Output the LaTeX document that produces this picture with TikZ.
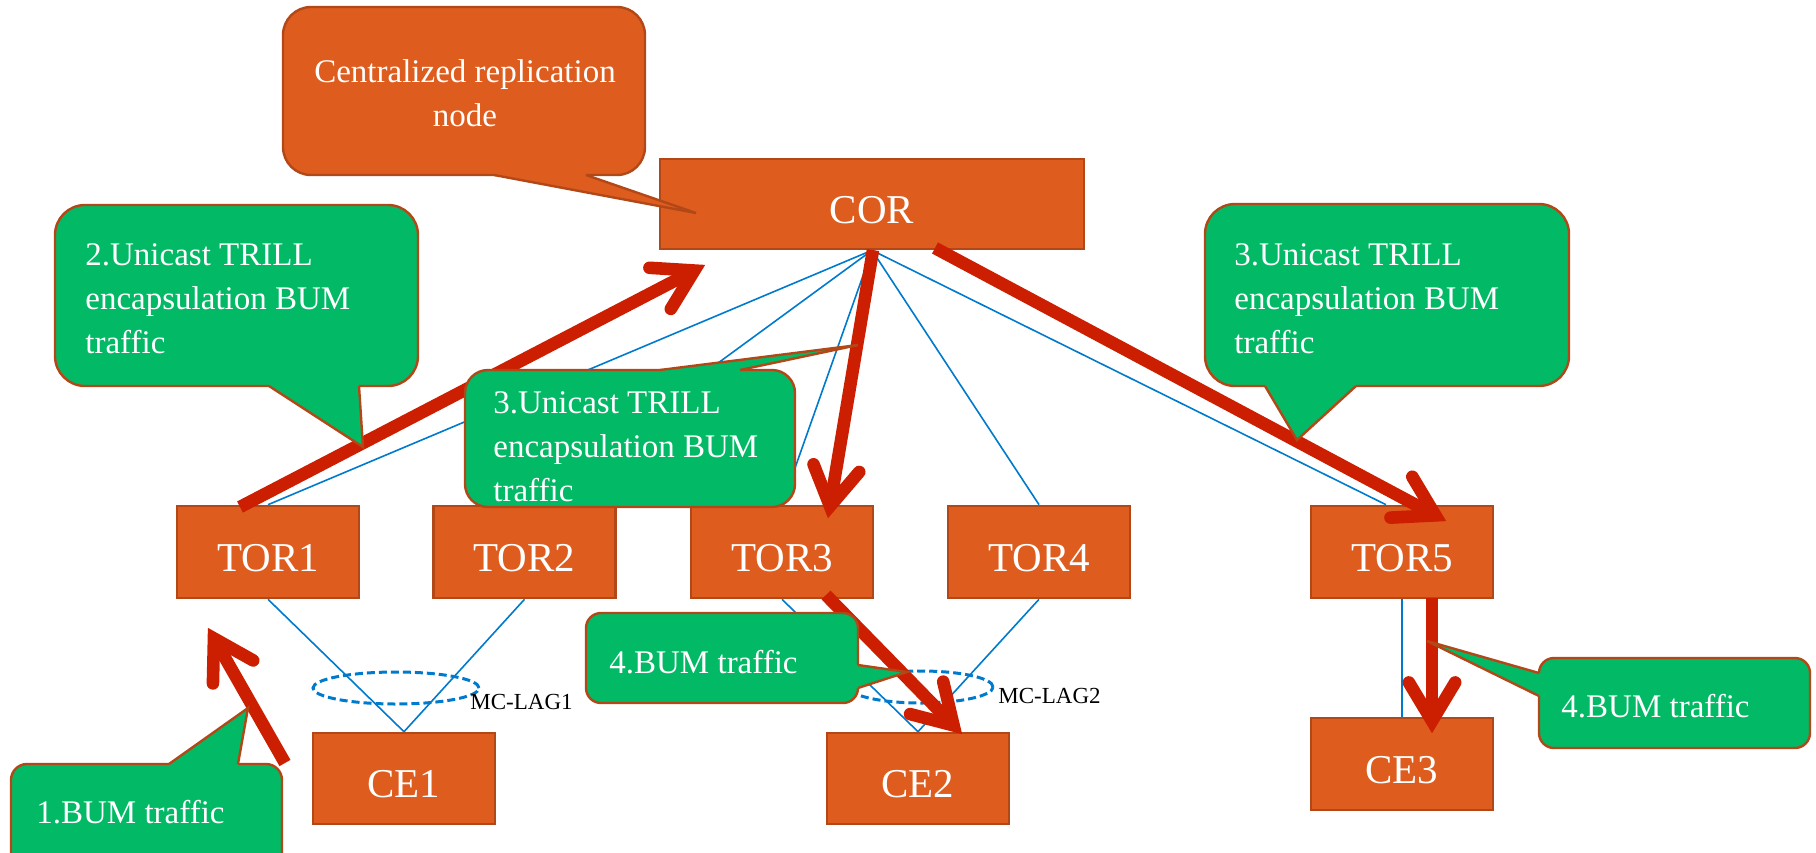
\documentclass[tikz,border=0pt]{standalone}
\usepackage{fontspec}
\setmainfont{Liberation Serif}
\usetikzlibrary{calc,backgrounds}
\definecolor{boxorange}{RGB}{221,92,30}
\definecolor{boxedge}{RGB}{178,72,24}
\definecolor{bubgreen}{RGB}{2,185,101}
\definecolor{flowred}{RGB}{204,30,0}
\definecolor{linkblue}{RGB}{0,122,204}

% thick traffic arrow: shaft plus an open V head with round ends
\newcommand\flowarrow[2]{%
  \coordinate (fv) at ($(#2)!6pt!(#1)$);
  \draw[flowline] (#1) -- (fv);
  \draw[flowhead] ($(fv)!22.5pt!31:(#1)$) -- (fv) -- ($(fv)!22.5pt!-31:(#1)$);
}

\begin{document}
\begin{tikzpicture}[x=0.5pt,y=-0.5pt,
  dev/.style={draw=boxedge,fill=boxorange,line width=1.3pt,text=white,
    font=\fontsize{20.5}{24}\selectfont,minimum width=91pt,minimum height=46pt,
    inner sep=0pt,text height=19pt,text depth=0pt},
  link/.style={draw=linkblue,line width=0.8pt},
  lag/.style={draw=linkblue,line width=1.5pt,dash pattern=on 4pt off 2pt},
  laglabel/.style={font=\fontsize{11.5}{13}\selectfont,anchor=base west,inner sep=0pt},
  flowline/.style={draw=flowred,line width=6.3pt,line cap=butt},
  flowhead/.style={draw=flowred,line width=6.3pt,line cap=round,line join=miter},
  greenbub/.style={fill=bubgreen,draw=boxedge,line width=1.2pt},
  orangebub/.style={fill=boxorange,draw=boxedge,line width=1.2pt},
  tailedge/.style={draw=boxedge,line width=1.2pt,line join=miter},
  bubtext/.style={text=white,font=\fontsize{16.5}{22}\selectfont,inner sep=0pt,align=left},
]
\useasboundingbox (0,0) rectangle (1816,852);

% devices
\node[dev,minimum width=212pt,minimum height=45pt] (COR) at (872,204) {COR};
\node[dev] (TOR1) at (268,552) {TOR1};
\node[dev] (TOR2) at (524.5,552) {TOR2};
\node[dev] (TOR3) at (782,552) {TOR3};
\node[dev] (TOR4) at (1039,552) {TOR4};
\node[dev] (TOR5) at (1402,552) {TOR5};
\node[dev,minimum height=45.5pt] (CE1) at (404,778.5) {CE1};
\node[dev,minimum height=45.5pt] (CE2) at (918,778.5) {CE2};
\node[dev] (CE3) at (1402,764) {CE3};

% physical links
\begin{scope}[on background layer]
  \draw[link] (COR.south) -- (TOR1.north);
  \draw[link] (COR.south) -- (TOR2.north);
  \draw[link] (COR.south) -- (TOR3.north);
  \draw[link] (COR.south) -- (TOR4.north);
  \draw[link] (COR.south) -- ([xshift=-8pt]TOR5.north);
  \draw[link] (TOR1.south) -- (CE1.north);
  \draw[link] (TOR2.south) -- (CE1.north);
  \draw[link] (TOR3.south) -- (CE2.north);
  \draw[link] (TOR4.south) -- (CE2.north);
  \draw[link] (TOR5.south) -- (CE3.north);
\end{scope}

% multi-chassis link aggregation groups
\draw[lag] (396,688) ellipse [x radius=41.5pt, y radius=8pt];
\draw[lag] (921,687) ellipse [x radius=36pt, y radius=8pt];
\node[laglabel] (lag1) at (470,709) {MC-LAG1};
\node[laglabel] (lag2) at (998,703) {MC-LAG2};

% BUM traffic flow
\coordinate (f1s) at (285,763);  \coordinate (f1e) at (208,628);
\coordinate (f2s) at (240,507);  \coordinate (f2e) at (705,265);
\coordinate (f3s) at (873,250);  \coordinate (f3e) at (828,518);
\coordinate (f4s) at (935,248);  \coordinate (f4e) at (1446,521);
\coordinate (f5s) at (826,595);  \coordinate (f5e) at (962,734);
\coordinate (f6s) at (1432,598); \coordinate (f6e) at (1432,733);
\flowarrow{f1s}{f1e}
\flowarrow{f2s}{f2e}
\flowarrow{f3s}{f3e}
\flowarrow{f4s}{f4e}
\flowarrow{f5s}{f5e}
\flowarrow{f6s}{f6e}

% callout: replication node
\draw[orangebub,rounded corners=14pt] (283,7) rectangle (645,175);
\fill[boxorange] (494,171) -- (494,175) -- (696,213) -- (586,175) -- (586,171) -- cycle;
\draw[tailedge] (494,175) -- (696,213) -- (586,175);
\node[bubtext,align=center] (crn) at (465,93) {Centralized replication\\node};

% callout: step 2
\draw[greenbub,rounded corners=15pt] (55,205) rectangle (418,386);
\fill[bubgreen] (269,382) -- (269,386) -- (363,447) -- (359,386) -- (359,382) -- cycle;
\draw[tailedge] (269,386) -- (363,447) -- (359,386);
\node[bubtext,anchor=west] (s2) at (85,299) {2.Unicast TRILL\\encapsulation BUM\\traffic};

% callout: step 3 towards TOR3
\draw[greenbub,rounded corners=11.5pt] (465,370) rectangle (795,507);
\fill[bubgreen] (660,374) -- (660,370) -- (858,345) -- (740,370) -- (740,374) -- cycle;
\draw[tailedge] (660,370) -- (858,345) -- (740,370);
\node[bubtext,anchor=west] (s3a) at (493,447) {3.Unicast TRILL\\encapsulation BUM\\traffic};

% callout: step 3 towards TOR5
\draw[greenbub,rounded corners=15pt] (1205,204) rectangle (1569,386);
\fill[bubgreen] (1265,382) -- (1265,386) -- (1297,440) -- (1356,386) -- (1356,382) -- cycle;
\draw[tailedge] (1265,386) -- (1297,440) -- (1356,386);
\node[bubtext,anchor=west] (s3b) at (1234,299) {3.Unicast TRILL\\encapsulation BUM\\traffic};

% callout: step 4 towards CE2
\draw[greenbub,rounded corners=7.5pt] (586,613) rectangle (858,703);
\fill[bubgreen] (854,665) -- (858,665) -- (907,672) -- (858,688) -- (854,688) -- cycle;
\draw[tailedge] (858,665) -- (907,672) -- (858,688);
\node[bubtext,anchor=base west] (s4a) at (609,673) {4.BUM traffic};

% callout: step 4 towards CE3
\draw[greenbub,rounded corners=7.5pt] (1539,658) rectangle (1810,748);
\fill[bubgreen] (1543,673) -- (1539,673) -- (1427,641) -- (1539,696) -- (1543,696) -- cycle;
\draw[tailedge] (1539,673) -- (1427,641) -- (1539,696);
\node[bubtext,anchor=base west] (s4b) at (1561,717) {4.BUM traffic};

% callout: step 1
\draw[greenbub,rounded corners=8pt] (11,764) rectangle (282,880);
\fill[bubgreen] (169,768) -- (169,764) -- (248,708) -- (238,764) -- (238,768) -- cycle;
\draw[tailedge] (169,764) -- (248,708) -- (238,764);
\node[bubtext,anchor=base west] (s1) at (36,823) {1.BUM traffic};
\end{tikzpicture}
\end{document}
